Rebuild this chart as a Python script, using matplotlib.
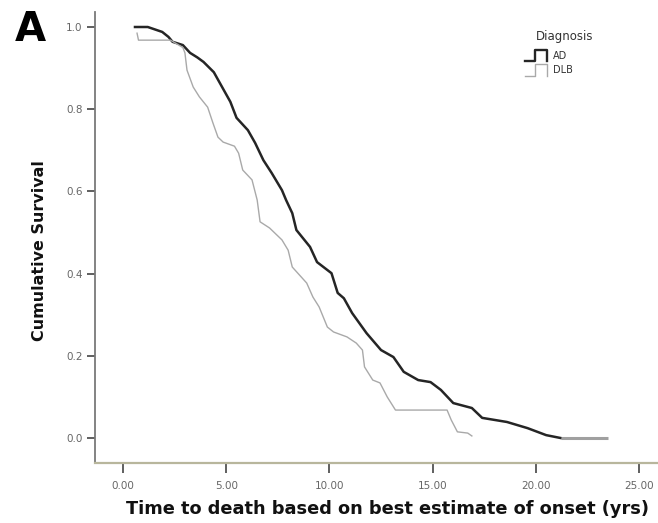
import matplotlib
matplotlib.use('Agg')
import matplotlib.pyplot as plt
from matplotlib.lines import Line2D
from matplotlib.legend_handler import HandlerBase

# Kaplan-Meier estimates (time in years, cumulative survival)
ad_time = [0.58, 1.2, 1.9, 2.2, 2.4, 2.9, 3.25, 3.6, 3.9, 4.4, 4.8, 5.2, 5.5, 6.05,
           6.4, 6.8, 7.2, 7.7, 7.9, 8.2, 8.4, 9.06, 9.4, 10.1, 10.4, 10.7, 11.1,
           11.8, 12.5, 13.1, 13.6, 14.3, 14.9, 15.4, 16.0, 16.9, 17.4, 18.6, 19.6,
           20.5, 21.2]
ad_surv = [1.0, 1.0, 0.988, 0.976, 0.964, 0.956, 0.937, 0.926, 0.915, 0.89, 0.854,
           0.818, 0.779, 0.749, 0.718, 0.676, 0.645, 0.603, 0.579, 0.547, 0.506,
           0.465, 0.428, 0.401, 0.353, 0.34, 0.304, 0.255, 0.214, 0.197, 0.161,
           0.141, 0.136, 0.117, 0.085, 0.073, 0.049, 0.039, 0.024, 0.007, 0.0]
ad_last_censor = 23.5

dlb_time = [0.68, 0.75, 2.3, 2.9, 3.0, 3.1, 3.4, 3.7, 4.1, 4.36, 4.6, 4.85, 5.4, 5.6,
            5.8, 6.25, 6.5, 6.64, 7.1, 7.7, 8.0, 8.2, 8.9, 9.2, 9.5, 9.9, 10.2,
            10.85, 11.3, 11.6, 11.7, 12.1, 12.45, 12.8, 13.2, 15.7, 15.9, 16.2,
            16.7, 16.9]
dlb_surv = [0.985, 0.968, 0.968, 0.95, 0.937, 0.895, 0.854, 0.83, 0.805, 0.766, 0.732,
            0.72, 0.71, 0.693, 0.652, 0.628, 0.579, 0.526, 0.511, 0.482, 0.457,
            0.416, 0.377, 0.343, 0.319, 0.27, 0.258, 0.246, 0.231, 0.214, 0.173,
            0.141, 0.134, 0.10, 0.068, 0.068, 0.044, 0.015, 0.012, 0.005]

x_ticks = [0, 5, 10, 15, 20, 25]
y_ticks = [0.0, 0.2, 0.4, 0.6, 0.8, 1.0]

AD_COLOR = '#252525'
DLB_COLOR = '#a9a9a9'


class StepHandler(HandlerBase):
    # legend key drawn as a little step, like the SPSS survival plot
    def create_artists(self, legend, orig_handle, xdescent, ydescent,
                       width, height, fontsize, trans):
        x0, y0 = -xdescent, -ydescent
        xs = [x0, x0 + 0.45 * width, x0 + 0.45 * width, x0 + width, x0 + width]
        ys = [y0, y0, y0 + height, y0 + height, y0]
        ln = Line2D(xs, ys, color=orig_handle.get_color(),
                    lw=orig_handle.get_linewidth(), transform=trans)
        return [ln]


fig = plt.figure(figsize=(6.58, 5.23), dpi=100)
ax = fig.add_axes([95 / 658, 60 / 523, 562 / 658, 451 / 523])

# curves are drawn through the points read along the published steps
ax.plot(ad_time, ad_surv, color=AD_COLOR, lw=1.8)
ax.plot([ad_time[-1], ad_last_censor], [ad_surv[-1], ad_surv[-1]],
        color='#a0a0a0', lw=2.2, solid_capstyle='butt')
ax.plot(dlb_time, dlb_surv, color=DLB_COLOR, lw=1.0)

ax.set_xlim(-1.357, 25.87)
ax.set_ylim(-0.0608, 1.0365)
ax.set_xticks(x_ticks)
ax.set_xticklabels([f'{v:.2f}' for v in x_ticks])
ax.set_yticks(y_ticks)
ax.set_yticklabels([f'{v:.1f}' for v in y_ticks])
ax.tick_params(axis='both', direction='out', labelsize=7.5, labelcolor='#666666',
               color='#444444', width=1.2)
ax.tick_params(axis='x', length=7, pad=6)
ax.tick_params(axis='y', length=6, pad=3)

for side in ['top', 'right']:
    ax.spines[side].set_visible(False)
ax.spines['left'].set_color('#7a7a7a')
ax.spines['left'].set_linewidth(1.3)
ax.spines['bottom'].set_color('#b8b69c')
ax.spines['bottom'].set_linewidth(1.6)

ax.set_xlabel('Time to death based on best estimate of onset (yrs)',
              fontsize=12.8, fontweight='bold', color='#111111')
ax.xaxis.set_label_coords(0.52, -0.083)
ax.set_ylabel('Cumulative Survival', fontsize=11.5, fontweight='bold',
              color='#111111')
ax.yaxis.set_label_coords(-0.085, 0.472)

handles = [Line2D([], [], color=AD_COLOR, lw=1.7),
           Line2D([], [], color=DLB_COLOR, lw=1.0)]
leg = ax.legend(handles, ['AD', 'DLB'], frameon=False,
                loc='upper left', bbox_to_anchor=(518 / 658, 1 - 43 / 523),
                bbox_transform=fig.transFigure, fontsize=7,
                handlelength=2.3, handleheight=1.4, handletextpad=0.6,
                labelspacing=0.35, borderpad=0.2,
                handler_map={Line2D: StepHandler()})
for t in leg.get_texts():
    t.set_color('#333333')
fig.text(565 / 658, 1 - 36 / 523, 'Diagnosis', fontsize=8.5, color='#333333',
         ha='center', va='center')

fig.text(15 / 658, 1 - 30 / 523, 'A', fontsize=29, fontweight='bold',
         ha='left', va='center')

fig.savefig('out.png', dpi=100)
